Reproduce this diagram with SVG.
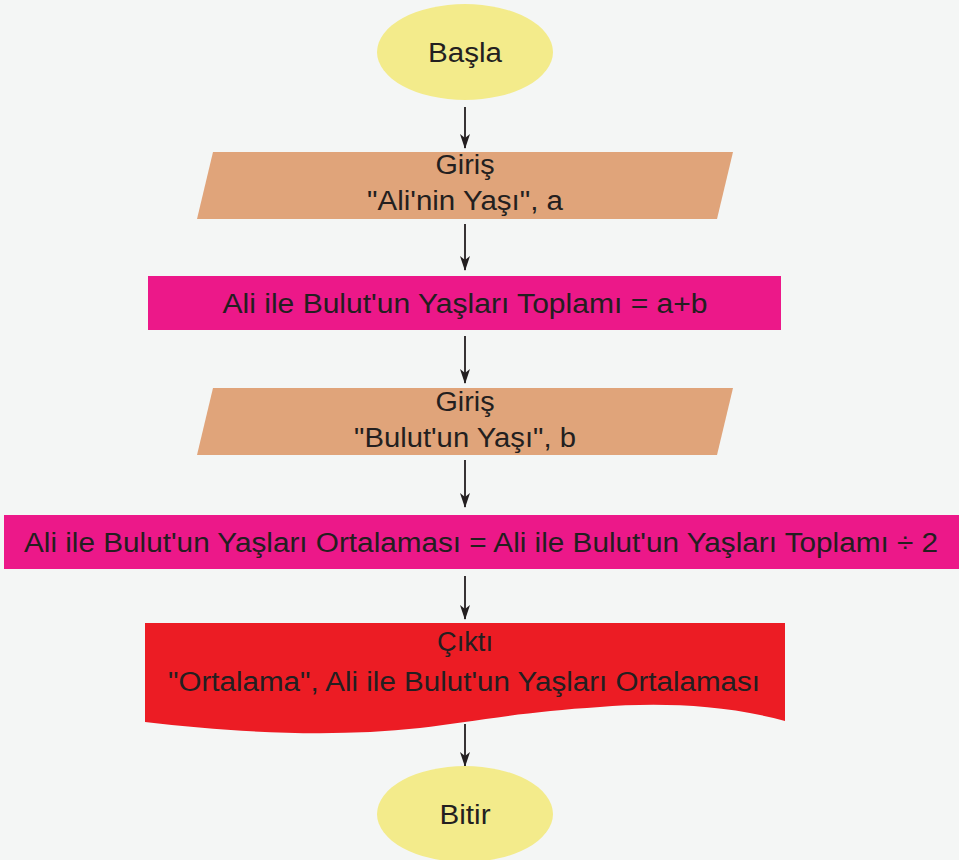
<svg xmlns="http://www.w3.org/2000/svg" width="959" height="860" viewBox="0 0 959 860">
<style>
.t{font-family:"Liberation Sans",Arial,sans-serif;font-size:27px;fill:#231f20;text-anchor:middle}
.c{stroke:#231f20;stroke-width:1.8;fill:none}
</style>
<defs>
<marker id="arr" markerWidth="15" markerHeight="10" refX="14" refY="5" orient="auto" markerUnits="userSpaceOnUse" viewBox="0 0 15 10">
<path d="M0,0 L15,5 L0,10 L4,5 Z" fill="#231f20"/>
</marker>
</defs>
<rect width="959" height="860" fill="#f4f6f5"/>
<g id="connectors">
<line class="c" x1="465" y1="107" x2="465" y2="148" marker-end="url(#arr)"/>
<line class="c" x1="465" y1="224" x2="465" y2="270" marker-end="url(#arr)"/>
<line class="c" x1="465" y1="336" x2="465" y2="383" marker-end="url(#arr)"/>
<line class="c" x1="465" y1="460" x2="465" y2="507" marker-end="url(#arr)"/>
<line class="c" x1="465" y1="576" x2="465" y2="619" marker-end="url(#arr)"/>
<line class="c" x1="465" y1="724" x2="465" y2="766" marker-end="url(#arr)"/>
</g>
<g id="start">
<ellipse cx="465" cy="52" rx="88" ry="48" fill="#f3eb8b"/>
<text class="t" x="465" y="62" textLength="74" lengthAdjust="spacingAndGlyphs">Başla</text>
</g>
<g id="input1">
<polygon points="213,152 733,152 717,219 197,219" fill="#e0a47a"/>
<text class="t" x="465" y="174" textLength="59" lengthAdjust="spacingAndGlyphs">Giriş</text>
<text class="t" x="465" y="210" textLength="196" lengthAdjust="spacingAndGlyphs">"Ali'nin Yaşı", a</text>
</g>
<g id="process1">
<rect x="148" y="276" width="633" height="54" fill="#ec1889"/>
<text class="t" x="465" y="313" textLength="485" lengthAdjust="spacingAndGlyphs">Ali ile Bulut'un Yaşları Toplamı = a+b</text>
</g>
<g id="input2">
<polygon points="213,388 733,388 717,455 197,455" fill="#e0a47a"/>
<text class="t" x="465" y="411" textLength="59" lengthAdjust="spacingAndGlyphs">Giriş</text>
<text class="t" x="465" y="447" textLength="222" lengthAdjust="spacingAndGlyphs">"Bulut'un Yaşı", b</text>
</g>
<g id="process2">
<rect x="4" y="515" width="955" height="54" fill="#ec1889"/>
<text class="t" x="481" y="552" textLength="914" lengthAdjust="spacingAndGlyphs">Ali ile Bulut'un Yaşları Ortalaması = Ali ile Bulut'un Yaşları Toplamı ÷ 2</text>
</g>
<g id="output">
<path d="M145,623 L785,623 L785,721 C720,703 650,703 600,707 C520,712 470,722 420,728 C330,738 230,732 145,722 Z" fill="#ec1c24"/>
<text class="t" x="465" y="651" textLength="56" lengthAdjust="spacingAndGlyphs">Çıktı</text>
<text class="t" x="464" y="691" textLength="592" lengthAdjust="spacingAndGlyphs">"Ortalama", Ali ile Bulut'un Yaşları Ortalaması</text>
</g>
<g id="end">
<ellipse cx="465" cy="814" rx="88" ry="48" fill="#f3eb8b"/>
<text class="t" x="465" y="824" textLength="51" lengthAdjust="spacingAndGlyphs">Bitir</text>
</g>
</svg>
